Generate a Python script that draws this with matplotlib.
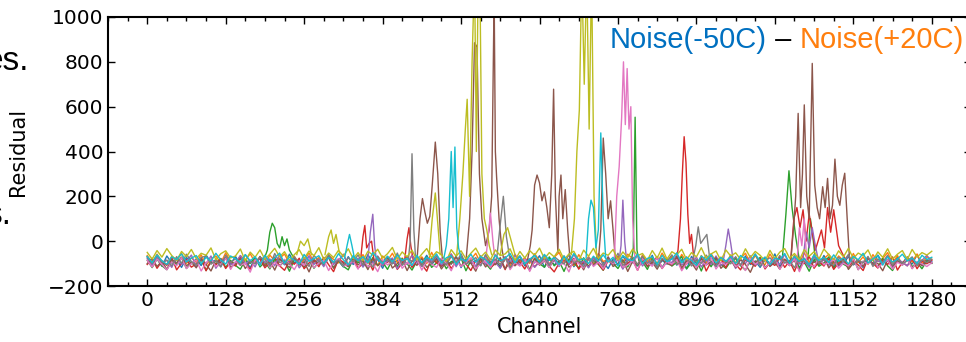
import numpy as np
import matplotlib.pyplot as plt

# baseline residual of each scan, read every ~8 channels (0..1280)
blue_base = [-70, -104, -78, -112, -66, -98, -84, -117, -72, -101, -80, -109, -62, -95, -83, -114, -74, -102, -68, -106,
             -81, -119, -75, -99, -64, -110, -90, -78, -105, -58, -97, -85, -116, -71, -103, -79, -108, -65, -99, -88,
             -115, -69, -104, -82, -111, -60, -96, -80, -121, -73, -100, -87, -107, -67, -113, -84, -98, -63, -105, -77,
             -112, -89, -102, -66, -118, -75, -99, -85, -109, -61, -104, -81, -120, -71, -93, -101, -67, -110, -83, -97,
             -65, -117, -78, -106, -87, -99, -59, -114, -84, -103, -73, -108, -69, -95, -122, -80, -104, -66, -101, -90,
             -111, -76, -97, -63, -116, -86, -102, -72, -107, -83, -124, -68, -99, -91, -105, -61, -113, -79, -101, -85,
             -74, -109, -66, -104, -89, -117, -81, -98, -57, -112, -85, -103, -70, -119, -79, -100, -88, -108, -64, -96,
             -114, -83, -101, -68, -106, -91, -118, -77, -104, -62, -97, -87, -113, -72, -107, -82, -102, -60, -110, -86,
             -90]
orange_base = [-64, -96, -58, -92, -103, -68, -86, -55, -99, -74, -94, -61, -107, -79, -66, -98, -52, -90, -101, -65,
               -84, -56, -95, -72, -108, -62, -88, -77, -57, -100, -67, -104, -83, -53, -93, -73, -102, -63, -81, -97,
               -59, -105, -69, -91, -60, -99, -78, -110, -66, -87, -54, -96, -75, -103, -62, -89, -70, -100, -50, -94,
               -77, -106, -57, -92, -68, -101, -82, -54, -98, -65, -104, -61, -90, -76, -111, -58, -95, -74, -99, -56,
               -87, -63, -102, -71, -51, -97, -79, -109, -60, -93, -69, -100, -55, -91, -81, -104, -66, -98, -58, -78,
               -106, -62, -94, -73, -100, -53, -88, -68, -103, -59, -92, -80, -112, -64, -97, -56, -90, -71, -101, -61,
               -96, -76, -54, -99, -65, -91, -105, -57, -94, -72, -84, -108, -63, -98, -52, -93, -67, -102, -79, -58,
               -100, -66, -87, -110, -55, -95, -70, -104, -60, -91, -77, -51, -98, -64, -106, -73, -93, -57, -101, -69,
               -82]
green_base = [-85, -118, -80, -110, -127, -88, -104, -74, -122, -94, -113, -81, -131, -90, -102, -77, -117, -86, -108, -125,
              -83, -99, -72, -115, -92, -124, -78, -111, -89, -134, -82, -100, -114, -76, -121, -91, -105, -70, -119, -87,
              -112, -128, -79, -96, -84, -120, -73, -107, -93, -126, -82, -113, -78, -101, -129, -88, -109, -71, -117, -97,
              -81, -123, -90, -104, -75, -132, -86, -114, -79, -99, -125, -84, -111, -73, -119, -93, -106, -80, -127, -76,
              -101, -116, -70, -110, -89, -135, -81, -97, -120, -74, -113, -87, -103, -130, -78, -99, -122, -85, -115, -72,
              -107, -91, -126, -77, -100, -118, -82, -111, -94, -69, -123, -96, -84, -133, -80, -114, -75, -104, -121, -89,
              -78, -109, -129, -86, -98, -72, -116, -101, -83, -124, -90, -108, -76, -119, -93, -134, -81, -112, -97, -70,
              -121, -85, -103, -115, -74, -127, -90, -99, -82, -117, -77, -110, -131, -87, -100, -71, -114, -95, -123, -88,
              -99]
red_base = [-104, -78, -121, -89, -108, -73, -128, -98, -82, -116, -101, -75, -132, -87, -106, -79, -122, -92, -111, -70,
            -99, -125, -84, -80, -119, -95, -71, -110, -130, -88, -103, -76, -123, -97, -85, -114, -72, -105, -136, -81,
            -93, -112, -77, -120, -100, -83, -129, -74, -107, -94, -79, -126, -98, -69, -117, -88, -104, -134, -75, -97,
            -111, -81, -122, -91, -70, -102, -131, -86, -96, -77, -118, -100, -83, -127, -68, -108, -93, -124, -80, -115,
            -89, -73, -112, -137, -98, -82, -105, -77, -125, -92, -116, -74, -101, -129, -87, -103, -71, -120, -97, -84,
            -130, -79, -110, -94, -69, -122, -90, -106, -75, -127, -99, -86, -115, -72, -133, -92, -102, -81, -119, -70,
            -103, -128, -83, -96, -112, -76, -124, -95, -108, -73, -117, -89, -135, -80, -100, -68, -121, -91, -111, -78,
            -126, -97, -74, -115, -87, -106, -131, -77, -99, -120, -84, -104, -70, -129, -94, -110, -79, -123, -88, -101,
            -85]
purple_base = [-77, -108, -68, -99, -85, -117, -72, -104, -90, -62, -112, -80, -101, -66, -121, -89, -74, -106, -95, -64,
               -103, -84, -115, -70, -97, -79, -110, -61, -105, -88, -73, -119, -92, -65, -102, -81, -114, -71, -104, -86,
               -58, -108, -94, -76, -116, -83, -100, -67, -107, -89, -75, -123, -82, -103, -63, -97, -112, -78, -91, -69,
               -106, -87, -57, -114, -76, -101, -90, -111, -64, -104, -80, -95, -120, -72, -99, -60, -109, -85, -79, -117,
               -92, -68, -103, -86, -113, -74, -106, -59, -99, -90, -119, -77, -95, -108, -70, -102, -84, -125, -78, -97,
               -63, -111, -82, -105, -74, -118, -89, -95, -60, -107, -86, -101, -71, -115, -83, -104, -66, -109, -91, -76,
               -122, -81, -100, -65, -106, -94, -78, -113, -87, -104, -58, -110, -74, -102, -89, -117, -69, -97, -84, -108,
               -76, -112, -91, -64, -103, -82, -116, -72, -106, -88, -98, -67, -121, -79, -94, -110, -73, -104, -86, -63,
               -96]
brown_base = [-100, -76, -113, -89, -126, -81, -98, -71, -110, -93, -119, -79, -104, -133, -85, -97, -73, -116, -102, -78,
              -122, -90, -101, -68, -111, -87, -129, -80, -96, -118, -75, -107, -92, -137, -82, -103, -94, -72, -121, -86,
              -99, -114, -74, -106, -88, -127, -79, -109, -93, -69, -120, -100, -83, -131, -87, -108, -77, -117, -97, -81,
              -124, -92, -102, -70, -112, -86, -98, -134, -78, -115, -90, -105, -73, -123, -95, -110, -82, -100, -130, -76,
              -107, -88, -118, -80, -97, -66, -116, -101, -87, -128, -79, -105, -91, -120, -71, -113, -99, -83, -135, -89,
              -103, -75, -114, -94, -125, -81, -100, -109, -69, -119, -88, -96, -129, -78, -106, -92, -74, -121, -98, -85,
              -117, -82, -104, -139, -89, -99, -72, -112, -95, -124, -80, -102, -87, -130, -76, -108, -93, -101, -70, -119,
              -91, -107, -78, -126, -97, -86, -113, -73, -104, -99, -132, -83, -111, -90, -100, -71, -122, -94, -109, -80,
              -98]
pink_base = [-86, -116, -80, -104, -128, -92, -110, -74, -122, -100, -84, -133, -96, -79, -114, -103, -76, -126, -90, -108,
             -98, -138, -83, -102, -72, -119, -94, -112, -81, -101, -127, -87, -109, -75, -118, -97, -85, -131, -93, -78,
             -111, -103, -88, -125, -73, -115, -99, -136, -82, -106, -91, -70, -121, -95, -108, -80, -129, -89, -102, -117,
             -77, -99, -132, -84, -113, -94, -74, -123, -100, -88, -118, -82, -105, -69, -127, -96, -111, -79, -135, -90,
             -104, -85, -117, -76, -109, -97, -137, -81, -100, -120, -72, -113, -93, -124, -83, -101, -75, -116, -106, -87,
             -130, -78, -96, -112, -70, -122, -91, -103, -82, -132, -99, -77, -118, -88, -107, -73, -124, -94, -105, -80,
             -114, -100, -131, -76, -103, -86, -119, -97, -74, -126, -90, -108, -79, -136, -87, -101, -115, -72, -106, -95,
             -81, -121, -98, -111, -77, -128, -89, -102, -71, -117, -100, -84, -125, -94, -107, -75, -123, -90, -101, -113,
             -96]
gray_base = [-71, -101, -64, -94, -85, -110, -69, -98, -58, -91, -106, -73, -66, -103, -86, -115, -62, -96, -78, -108,
             -60, -93, -100, -72, -81, -111, -55, -95, -87, -104, -70, -99, -77, -113, -63, -90, -102, -59, -97, -84,
             -109, -74, -92, -61, -105, -79, -116, -67, -96, -83, -101, -53, -107, -76, -90, -71, -112, -81, -99, -65,
             -88, -106, -68, -97, -56, -103, -89, -73, -110, -62, -95, -82, -104, -70, -118, -84, -66, -100, -91, -60,
             -99, -77, -109, -69, -87, -102, -58, -97, -84, -114, -74, -93, -63, -106, -80, -96, -54, -108, -89, -71,
             -104, -67, -98, -85, -117, -76, -90, -61, -103, -93, -70, -111, -82, -99, -62, -94, -112, -75, -88, -101,
             -69, -107, -78, -95, -57, -110, -87, -74, -100, -64, -98, -85, -119, -72, -91, -105, -60, -99, -81, -94,
             -108, -72, -92, -59, -104, -84, -97, -68, -113, -79, -93, -63, -106, -76, -100, -88, -70, -110, -83, -96,
             -80]
olive_base = [-50, -80, -42, -71, -33, -64, -86, -46, -69, -37, -78, -54, -63, -30, -83, -56, -43, -75, -66, -35,
              -89, -49, -72, -39, -81, -58, -32, -70, -47, -85, -60, -38, -77, -44, -65, -29, -82, -53, -73, -41,
              -67, -34, -79, -51, -87, -45, -62, -36, -76, -56, -28, -81, -48, -70, -40, -84, -58, -33, -74, -47,
              -60, -90, -38, -67, -43, -79, -54, -31, -72, -49, -83, -39, -64, -57, -34, -86, -46, -75, -42, -63,
              -31, -78, -51, -70, -36, -82, -58, -45, -88, -40, -67, -32, -77, -53, -63, -37, -84, -48, -73, -35,
              -65, -55, -86, -42, -75, -31, -80, -47, -61, -36, -83, -51, -70, -29, -77, -57, -44, -87, -39, -67,
              -52, -81, -34, -73, -46, -63, -89, -41, -78, -49, -33, -76, -55, -84, -38, -67, -47, -80, -35, -60,
              -83, -43, -70, -32, -77, -53, -65, -39, -86, -48, -72, -34, -80, -58, -42, -82, -37, -71, -51, -62,
              -45]
cyan_base = [-68, -96, -61, -87, -104, -70, -82, -57, -93, -76, -64, -101, -72, -89, -54, -84, -102, -66, -79, -95,
             -60, -88, -69, -108, -63, -92, -75, -53, -99, -71, -85, -103, -59, -90, -78, -65, -100, -73, -94, -56,
             -83, -106, -64, -88, -69, -97, -51, -80, -101, -67, -92, -62, -86, -76, -109, -63, -96, -72, -84, -57,
             -98, -74, -65, -104, -78, -90, -58, -94, -69, -82, -107, -62, -88, -76, -55, -97, -67, -102, -80, -64,
             -92, -59, -86, -74, -105, -66, -95, -55, -84, -78, -100, -67, -89, -61, -93, -72, -111, -64, -81, -87,
             -57, -99, -77, -70, -103, -63, -92, -80, -52, -96, -72, -86, -108, -66, -84, -60, -98, -73, -90, -68,
             -101, -64, -79, -93, -58, -88, -71, -105, -76, -82, -55, -99, -67, -91, -78, -106, -62, -86, -72, -95,
             -61, -90, -74, -102, -68, -83, -54, -97, -79, -65, -107, -70, -93, -80, -58, -88, -76, -100, -63, -82,
             -72]

# peaks: (channels, residuals) per scan
blue_peaks = []
orange_peaks = []
green_peaks = [
    ([190, 196, 200, 204, 208, 212, 216, 220, 224, 228, 232, 236, 242],
     [-85, -40, 40, 80, 60, -10, -30, 20, -20, 10, -40, -60, -85]),
    ([790, 793, 796, 799, 802], [-80, -40, 553, -40, -85]),
    ([1036, 1042, 1047, 1052, 1058, 1064], [-85, 120, 314, 150, 20, -85]),
    ([1078, 1082, 1086, 1090], [-80, 100, 20, -80]),
]
red_peaks = [
    ([348, 352, 355, 358, 362, 366, 370], [-85, 20, 70, -30, -10, 0, -85]),
    ([420, 424, 427, 430, 434], [-85, 10, 60, -20, -85]),
    ([862, 866, 870, 873, 876, 879, 882, 885, 888, 892],
     [-85, -40, 100, 300, 466, 350, 120, -10, 30, -85]),
    ([1050, 1055, 1060, 1065, 1070, 1075, 1080, 1090, 1100, 1105, 1110, 1115, 1120, 1128, 1135, 1140],
     [-80, 100, 150, 60, 140, 0, 120, -40, 50, -30, 150, 40, 140, -20, -60, -85]),
]
purple_peaks = [
    ([360, 364, 368, 371, 374], [-85, 40, 120, -20, -85]),
    ([770, 773, 776, 779, 782], [-85, -20, 183, 0, -85]),
    ([940, 944, 948, 952, 956], [-85, -20, 54, -10, -85]),
    ([1070, 1075, 1080, 1085, 1090, 1095], [-80, 40, -30, 60, -20, -85]),
]
brown_peaks = [
    ([440, 445, 449, 453, 457, 461, 465, 470, 474, 478, 482],
     [-90, 100, 190, 130, 80, 110, 250, 442, 300, 40, -90]),
    ([520, 526, 530, 534, 538, 542, 546, 552, 558, 562, 566, 568, 570, 574, 578, 582],
     [-90, 100, 400, 885, 867, 300, 100, -20, 50, 200, 1100, 400, 287, 100, -20, -90]),
    ([620, 625, 628, 632, 636, 640, 644, 648, 652, 656, 660, 663, 666, 670, 672, 675, 678, 682, 686, 690],
     [-90, -20, 50, 250, 295, 260, 180, 220, 150, 60, 300, 678, 200, -50, 200, 295, 100, 230, 50, -90]),
    ([736, 740, 744, 748, 752, 756, 760, 764], [-90, 50, 460, 300, 100, 180, 50, -90]),
    ([1050, 1055, 1058, 1062, 1066, 1069, 1072, 1076, 1080, 1085, 1089, 1093, 1097, 1102, 1106,
      1110, 1114, 1118, 1122, 1126, 1130, 1134, 1138, 1142, 1146],
     [-90, 80, 200, 570, 150, 300, 608, 200, 100, 793, 250, 150, 100, 243, 150,
      280, 100, 160, 366, 200, 160, 250, 303, 100, -90]),
]
pink_peaks = [
    ([552, 556, 560, 564, 568], [-95, 20, 125, 0, -95]),
    ([762, 766, 770, 774, 777, 780, 783, 786, 789, 792, 796],
     [-95, 200, 333, 550, 800, 520, 770, 500, 600, 100, -95]),
    ([1060, 1064, 1068, 1072, 1076], [-95, 60, -20, 100, -95]),
]
gray_peaks = [
    ([426, 429, 432, 435, 438], [-85, 0, 390, 50, -85]),
    ([570, 575, 581, 586, 592], [-85, 50, 200, 20, -85]),
    ([890, 895, 899, 903, 908, 913, 918], [-85, -20, 64, -10, 10, 30, -85]),
]
olive_peaks = [
    ([244, 250, 256, 262, 268], [-60, 0, -20, 10, -60]),
    ([290, 296, 300, 304, 308, 314], [-60, 20, 50, -10, 30, -60]),
    ([460, 465, 470, 474, 478], [-60, 100, 215, 80, -60]),
    ([505, 510, 515, 519, 522, 526, 530, 534, 537, 540, 543, 546, 550, 554, 558, 562],
     [-60, 100, 300, 500, 633, 200, 800, 1200, 400, 1200, 1100, 300, 100, 50, -20, -60]),
    ([576, 582, 588, 594, 600], [-60, 30, 60, 0, -60]),
    ([692, 697, 701, 705, 709, 713, 717, 721, 725, 729, 733],
     [-60, 100, 400, 585, 1200, 700, 1200, 500, 1200, 200, -60]),
]
cyan_peaks = [
    ([322, 326, 330, 334, 338], [-75, -20, 30, -20, -75]),
    ([484, 488, 492, 496, 499, 502, 505, 508, 512], [-75, -20, 100, 400, 150, 420, 60, -30, -75]),
    ([716, 720, 724, 728, 732, 736, 740, 744, 748], [-75, 100, 183, 150, -30, 50, 483, 100, -75]),
]

bases = [blue_base, orange_base, green_base, red_base, purple_base,
         brown_base, pink_base, gray_base, olive_base, cyan_base]
peaks = [blue_peaks, orange_peaks, green_peaks, red_peaks, purple_peaks,
         brown_peaks, pink_peaks, gray_peaks, olive_peaks, cyan_peaks]
colors = plt.rcParams['axes.prop_cycle'].by_key()['color']

fig = plt.figure(figsize=(9.66, 3.42), dpi=100)
ax = fig.add_axes([108 / 966, 56 / 342, 863 / 966, 269 / 342])

for base, pk, c in zip(bases, peaks, colors):
    ax.plot(np.linspace(0, 1280, len(base)), base, color=c, lw=1.0)
    for xs, ys in pk:
        ax.plot(xs, ys, color=c, lw=1.0)

ax.set_xlim(-64, 1344)
ax.set_ylim(-200, 1000)
ax.set_xticks(np.arange(0, 1281, 128))
ax.set_xticks(np.arange(-64, 1345, 32), minor=True)
ax.set_yticks(np.arange(-200, 1001, 200))
ax.tick_params(which='both', direction='in', top=True, right=True, labelsize=14.5)
ax.tick_params(which='major', length=5, width=1)
ax.tick_params(which='minor', length=3, width=1)
for s in ax.spines.values():
    s.set_linewidth(1.5)
ax.set_xlabel("Channel", fontsize=15, labelpad=5)
ax.set_ylabel("Residual", fontsize=15, labelpad=14)

# title made of coloured pieces
tx = dict(fontsize=21, family='Liberation Sans', va='center', transform=fig.transFigure)
t1 = fig.text(610 / 966, 1 - 40 / 342, "Noise(-50C)", color='#0070C0', **tx)
fig.canvas.draw()
bb = t1.get_window_extent()
t2 = fig.text(bb.x1 / 966, 1 - 40 / 342, " \u2013 ", color='black', **tx)
bb = t2.get_window_extent()
fig.text(bb.x1 / 966, 1 - 40 / 342, "Noise(+20C)", color='#FF7F0E', **tx)

# cut-off slide text on the left
fig.text(29 / 966, 1 - 62 / 342, "es.", fontsize=24, family='Liberation Sans', ha='right', va='center')
fig.text(11 / 966, 1 - 216 / 342, "s.", fontsize=24, family='Liberation Sans', ha='right', va='center')

fig.savefig("out.png", dpi=100)
